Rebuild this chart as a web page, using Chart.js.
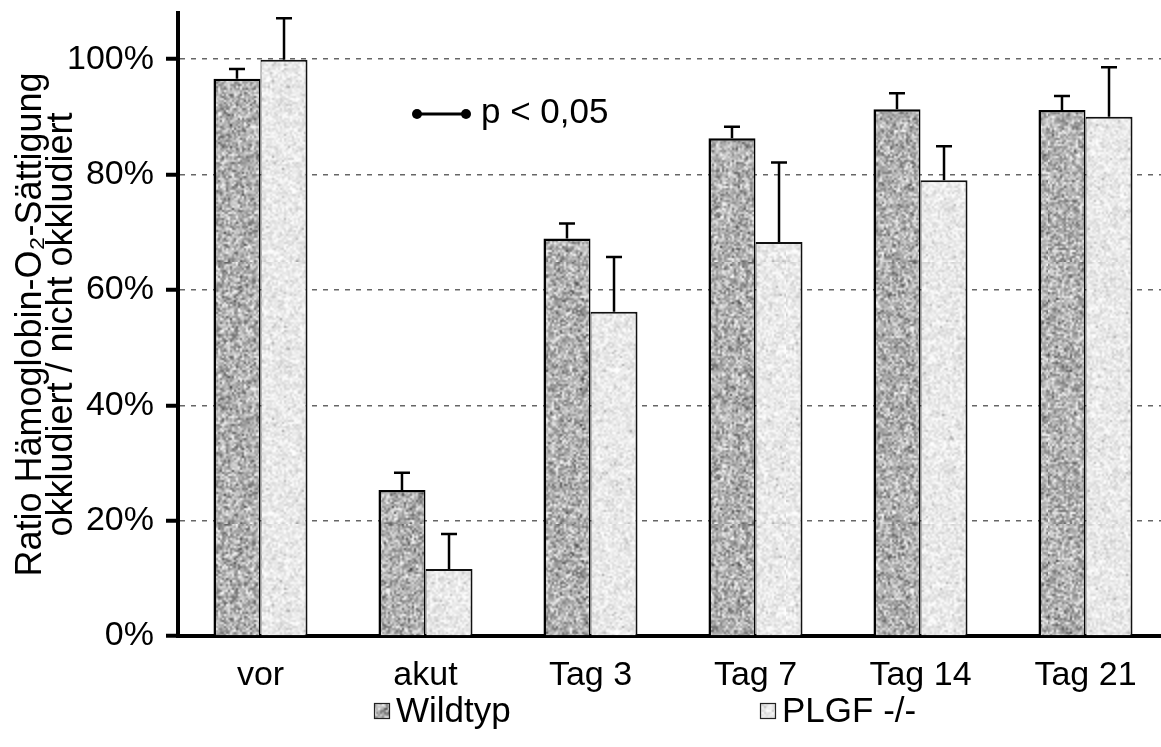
<!DOCTYPE html>
<html>
<head>
<meta charset="utf-8">
<script src="https://cdn.jsdelivr.net/npm/chart.js@4.4.0/dist/chart.umd.min.js"></script>
<style>
  html, body { margin: 0; padding: 0; background: #fff; overflow: hidden; }
  #wrap { position: relative; width: 1170px; height: 747px; }
</style>
</head>
<body>
<div id="wrap"><canvas id="c"></canvas></div>
<script>
// Hemoglobin O2 saturation ratio, occluded vs. non-occluded (%)
const categories = ['vor', 'akut', 'Tag 3', 'Tag 7', 'Tag 14', 'Tag 21'];
const wildtyp    = [96.6, 25.3, 68.9, 86.3, 91.3, 91.2];
const wildtypSd  = [1.7, 3.0, 2.6, 2.0, 2.8, 2.4];
const plgf       = [99.9, 11.6, 56.2, 68.3, 79.0, 90.0];
const plgfSd     = [7.2, 6.1, 9.5, 13.8, 5.9, 8.6];
const yTicks     = [0, 20, 40, 60, 80, 100];
const seriesNames = ['Wildtyp', 'PLGF -/-'];

const FONT = 'Liberation Sans, Arial, Helvetica, sans-serif';
const canvas = document.getElementById('c');
const ctx = canvas.getContext('2d');

// granite-like speckle fill, deterministic generator, softened 2x grain
function speckle(base, spread, darkRate, seed) {
  const n = 131;
  const src = document.createElement('canvas');
  src.width = src.height = n;
  const g = src.getContext('2d');
  const img = g.createImageData(n, n);
  let s = seed;
  const rnd = () => { s = (s * 16807) % 2147483647; return s / 2147483647; };
  for (let i = 0; i < n * n; i++) {
    let v = base + (rnd() + rnd() + rnd() - 1.5) * spread;
    if (rnd() < darkRate) v -= 60 * rnd();
    v = Math.max(0, Math.min(255, Math.round(v)));
    img.data[i * 4] = img.data[i * 4 + 1] = img.data[i * 4 + 2] = v;
    img.data[i * 4 + 3] = 255;
  }
  g.putImageData(img, 0, 0);
  const big = document.createElement('canvas');
  big.width = big.height = n * 2;
  const b = big.getContext('2d');
  b.imageSmoothingEnabled = true;
  b.drawImage(src, 0, 0, n * 2, n * 2);
  return ctx.createPattern(big, 'repeat');
}
const wildFill = speckle(180, 75, 0.12, 12345);
const plgfFill = speckle(234, 28, 0.03, 67891);

const errorBars = {
  id: 'errorBars',
  afterDatasetsDraw(chart) {
    const c = chart.ctx, y = chart.scales.y;
    c.save();
    c.strokeStyle = '#000';
    c.lineWidth = 2.5;
    chart.data.datasets.forEach((ds, di) => {
      chart.getDatasetMeta(di).data.forEach((bar, i) => {
        const top = y.getPixelForValue(ds.data[i]);
        const end = y.getPixelForValue(ds.data[i] + ds.sd[i]);
        c.beginPath();
        c.moveTo(bar.x, top); c.lineTo(bar.x, end);
        c.moveTo(bar.x - 8, end); c.lineTo(bar.x + 8, end);
        c.stroke();
      });
    });
    c.restore();
  }
};

const keyAndLegend = {
  id: 'keyAndLegend',
  afterDraw(chart) {
    const c = chart.ctx;
    c.save();
    // significance key
    c.strokeStyle = '#000'; c.fillStyle = '#000'; c.lineWidth = 3;
    c.beginPath(); c.moveTo(417, 114); c.lineTo(466, 114); c.stroke();
    [417, 466].forEach(x => { c.beginPath(); c.arc(x, 114, 5, 0, Math.PI * 2); c.fill(); });
    c.font = '35px ' + FONT;
    c.textBaseline = 'middle';
    c.textAlign = 'left';
    c.fillText('p < 0,05', 481, 113);
    // series legend
    const items = [[374, chart.data.datasets[0]], [760, chart.data.datasets[1]]];
    items.forEach(([x, ds]) => {
      c.fillStyle = ds.backgroundColor;
      c.fillRect(x, 703, 16, 16);
      c.strokeStyle = '#222'; c.lineWidth = 1.2;
      c.strokeRect(x + 0.5, 703.5, 15, 15);
      c.fillStyle = '#000';
      c.fillText(ds.label, x + 22, 712);
    });
    c.restore();
  }
};

const noPad = s => { s.paddingTop = 0; s.paddingBottom = 0; s.paddingLeft = 0; s.paddingRight = 0; };

new Chart(ctx, {
  type: 'bar',
  data: {
    labels: categories,
    datasets: [
      { label: seriesNames[0], data: wildtyp, sd: wildtypSd, backgroundColor: wildFill,
        borderColor: '#000', borderWidth: { top: 2.5, left: 2.5, right: 1.5, bottom: 0 } },
      { label: seriesNames[1], data: plgf, sd: plgfSd, backgroundColor: plgfFill,
        borderColor: '#111', borderWidth: { top: 2, left: 1, right: 2, bottom: 0 } }
    ]
  },
  options: {
    responsive: true,
    maintainAspectRatio: false,
    animation: false,
    devicePixelRatio: 1,
    layout: { padding: { top: 13, right: 2, left: 0, bottom: 0 } },
    datasets: { bar: { categoryPercentage: 0.57, barPercentage: 1 } },
    plugins: { legend: { display: false }, tooltip: { enabled: false } },
    scales: {
      x: {
        grid: { display: false, drawTicks: false },
        border: { color: '#000', width: 4 },
        ticks: { color: '#000', font: { family: FONT, size: 34 }, padding: 19 },
        afterFit: s => { s.height = 111; noPad(s); }
      },
      y: {
        min: 0, max: 108,
        afterBuildTicks: s => { s.ticks = yTicks.map(v => ({ value: v })); },
        ticks: { color: '#000', font: { family: FONT, size: 34 }, padding: 12, callback: v => v + '%' },
        grid: { color: '#666', lineWidth: 1.5, tickColor: '#000', tickWidth: 4, tickLength: 12 },
        border: { color: '#000', width: 4, dash: [5, 6] },
        title: {
          display: true,
          text: ['Ratio Hämoglobin-O₂-Sättigung', 'okkludiert / nicht okkludiert'],
          color: '#000',
          font: { family: FONT, size: 36, lineHeight: 0.88 },
          padding: { top: 15, bottom: 0 }
        },
        afterFit: s => { s.width = 178; noPad(s); }
      }
    }
  },
  plugins: [errorBars, keyAndLegend]
});
</script>
</body>
</html>
